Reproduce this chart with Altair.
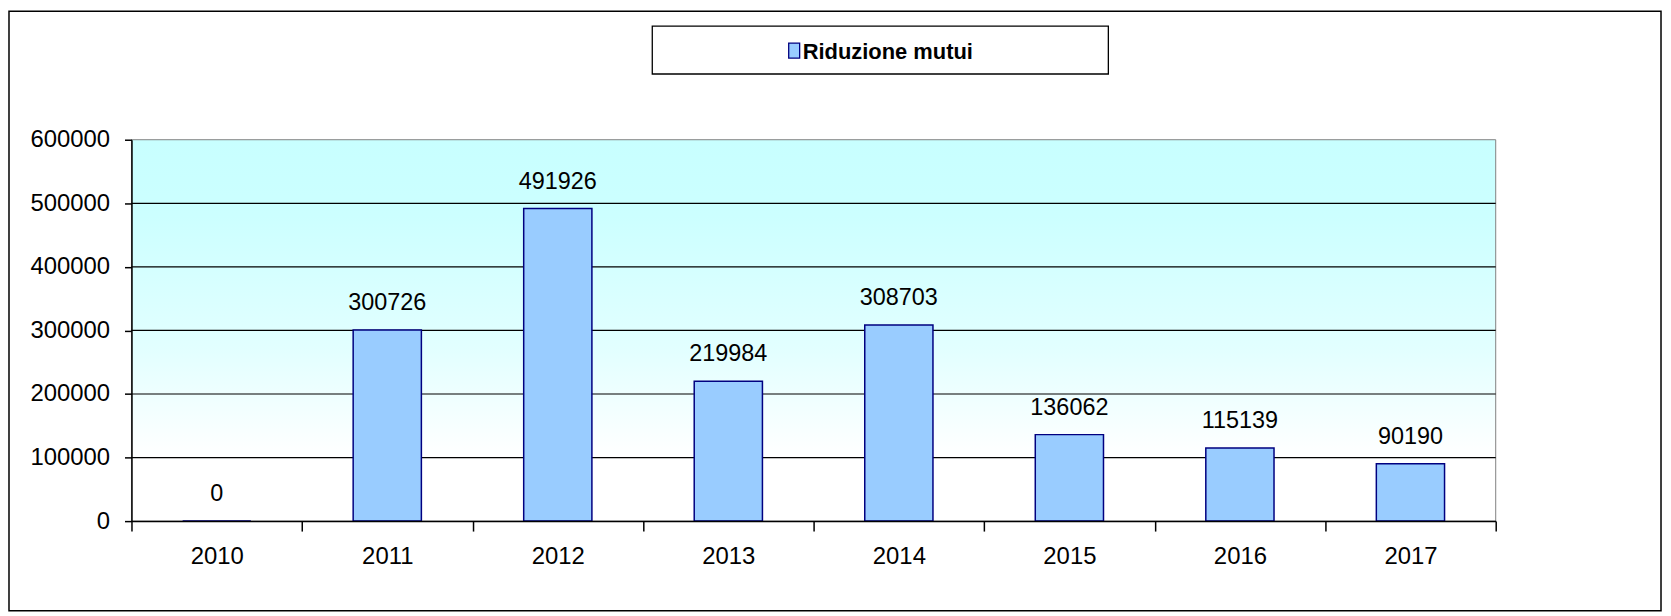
import altair as alt
import pandas as pd

# ---- data ----
years = ["2010", "2011", "2012", "2013", "2014", "2015", "2016", "2017"]
values = [0, 300726, 491926, 219984, 308703, 136062, 115139, 90190]
series_name = "Riduzione mutui"
y_ticks = [0, 100000, 200000, 300000, 400000, 500000, 600000]

W, H = 1370, 383
FONT = "Liberation Sans"
FS = 24
BAR_FILL = "#99CCFF"
BAR_STROKE = "#000080"

df = pd.DataFrame({"year": years, "value": values})
grid_df = pd.DataFrame({"value": y_ticks[1:-1]})
one = pd.DataFrame({"label": [series_name]})

yscale = alt.Scale(domain=[y_ticks[0], y_ticks[-1]], nice=False)
xscale = alt.Scale(paddingInner=0, paddingOuter=0)

x_axis = alt.Axis(
    title=None, labelAngle=0, tickBand="extent", tickSize=10,
    labelPadding=14, labelFont=FONT, labelFontSize=FS, labelColor="black",
    domainColor="black", domainWidth=1.5, tickColor="black", tickWidth=1.5,
    zindex=1,
)
y_axis = alt.Axis(
    title=None, values=y_ticks, format="d", grid=False, tickSize=7,
    labelPadding=15, labelFont=FONT, labelFontSize=FS, labelColor="black",
    domainColor="black", domainWidth=1.5, tickColor="black", tickWidth=1.5,
    zindex=1,
)

# gradient plot background with grey border
background = alt.Chart(one).mark_rect(
    fill=alt.LinearGradient(
        gradient="linear",
        stops=[
            alt.GradientStop(offset=0, color="#C8FFFF"),
            alt.GradientStop(offset=0.2, color="#CCFFFF"),
            alt.GradientStop(offset=0.55, color="#E2FFFF"),
            alt.GradientStop(offset=0.83, color="#FFFFFF"),
            alt.GradientStop(offset=1, color="#FFFFFF"),
        ],
        x1=0, x2=0, y1=0, y2=1,
    ),
    stroke="#808080", strokeWidth=1,
).encode(x=alt.value(0), x2=alt.value(W), y=alt.value(0), y2=alt.value(H))

grid = alt.Chart(grid_df).mark_rule(color="black", strokeWidth=1.2).encode(
    y=alt.Y("value:Q", scale=yscale, axis=y_axis),
    x=alt.value(0), x2=alt.value(W),
)

bars = alt.Chart(df).mark_bar(
    size=68.5, fill=BAR_FILL, stroke=BAR_STROKE, strokeWidth=1.5
).encode(
    x=alt.X("year:N", sort=years, scale=xscale, axis=x_axis),
    y=alt.Y("value:Q", scale=yscale, axis=y_axis),
)

labels = alt.Chart(df).mark_text(
    font=FONT, fontSize=23.5, color="black", baseline="alphabetic", dy=-20
).encode(
    x=alt.X("year:N", sort=years, scale=xscale, axis=x_axis),
    y=alt.Y("value:Q", scale=yscale, axis=y_axis),
    text=alt.Text("value:Q", format="d"),
)

frame = alt.Chart(one).mark_rect(
    fill="transparent", stroke="black", strokeWidth=1.5
).encode(x=alt.value(-123), x2=alt.value(1536), y=alt.value(-129), y2=alt.value(473))

legend_box = alt.Chart(one).mark_rect(
    fill="white", stroke="black", strokeWidth=1.3
).encode(x=alt.value(523), x2=alt.value(981), y=alt.value(-114), y2=alt.value(-66))

legend_swatch = alt.Chart(one).mark_rect(
    fill=BAR_FILL, stroke=BAR_STROKE, strokeWidth=1.3
).encode(x=alt.value(660), x2=alt.value(671), y=alt.value(-97), y2=alt.value(-82))

legend_text = alt.Chart(one).mark_text(
    font=FONT, fontSize=22, fontWeight="bold", color="black",
    align="left", baseline="alphabetic",
).encode(x=alt.value(674), y=alt.value(-81), text="label:N")

chart = alt.layer(
    background, grid, bars, labels, frame, legend_box, legend_swatch, legend_text
).properties(
    width=W, height=H,
    autosize=alt.AutoSizeParams(type="none"),
    padding={"left": 124, "top": 131, "right": 168, "bottom": 92},
    background="white",
).configure_view(strokeWidth=0)

chart.save("out.html", embed_options={"renderer": "svg", "actions": False})
